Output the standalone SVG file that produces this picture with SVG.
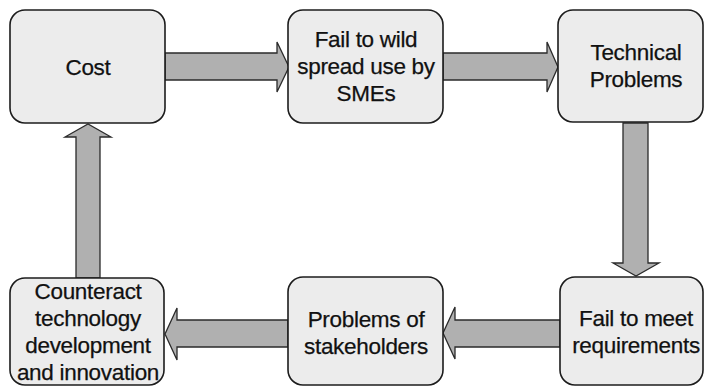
<svg xmlns="http://www.w3.org/2000/svg" width="706" height="387" viewBox="0 0 706 387">
  <style>
    .box { fill: #ececec; stroke: #1c1c1c; stroke-width: 1.6; }
    .arrow { fill: #b0b0b0; stroke: #2a2a2a; stroke-width: 1.3; stroke-linejoin: miter; }
    .label { font-family: "Liberation Sans", Arial, sans-serif; font-size: 22.5px; letter-spacing: -0.3px; fill: #111; stroke: #111; stroke-width: 0.25; text-anchor: middle; }
  </style>
  <rect width="706" height="387" fill="#ffffff"/>

  <!-- block arrows between the stages -->
  <g id="connectors">
    <polygon class="arrow" points="165,53 277,53 277,42 289,67 277,92 277,80 165,80"/>
    <polygon class="arrow" points="443,53 547,53 547,42 558,67 547,92 547,80 443,80"/>
    <polygon class="arrow" points="623,123 648,123 648,263 659,263 636,276 613,263 623,263"/>
    <polygon class="arrow" points="560,320 455,320 455,307 443,333 455,359 455,347 560,347"/>
    <polygon class="arrow" points="288,320 177,320 177,308 165,334 177,360 177,347 288,347"/>
    <polygon class="arrow" points="76,278 76,137 65,137 88,124 111,137 100,137 100,278"/>
  </g>

  <g id="cost">
    <rect class="box" x="10" y="10" width="155" height="113" rx="15"/>
    <text class="label" x="88" y="75">Cost</text>
  </g>

  <g id="fail-spread">
    <rect class="box" x="288" y="10" width="155" height="113" rx="15"/>
    <text class="label" x="366" y="47">Fail to wild</text>
    <text class="label" x="366" y="74">spread use by</text>
    <text class="label" x="366" y="101">SMEs</text>
  </g>

  <g id="technical">
    <rect class="box" x="558" y="10" width="145" height="112" rx="15"/>
    <text class="label" x="636" y="60">Technical</text>
    <text class="label" x="636" y="87">Problems</text>
  </g>

  <g id="fail-requirements">
    <rect class="box" x="560" y="277" width="143" height="108" rx="15"/>
    <text class="label" x="636" y="326">Fail to meet</text>
    <text class="label" x="636" y="353">requirements</text>
  </g>

  <g id="stakeholders">
    <rect class="box" x="288" y="277" width="155" height="108" rx="15"/>
    <text class="label" x="366" y="327">Problems of</text>
    <text class="label" x="366" y="354">stakeholders</text>
  </g>

  <g id="counteract">
    <rect class="box" x="10" y="278" width="154" height="107" rx="15"/>
    <text class="label" x="88" y="299">Counteract</text>
    <text class="label" x="88" y="326">technology</text>
    <text class="label" x="88" y="353">development</text>
    <text class="label" x="88" y="380">and innovation</text>
  </g>
</svg>
